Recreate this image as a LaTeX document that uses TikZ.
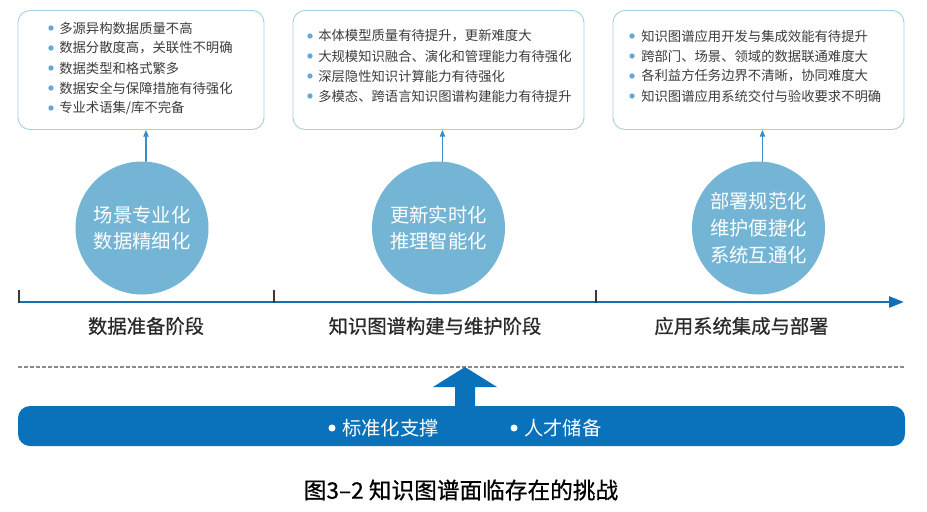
\documentclass[tikz,border=0pt]{standalone}
\usepackage{fontspec}
\setmainfont{Noto Sans CJK SC}
\newfontfamily\semifont[FakeBold=0.7]{Noto Sans CJK SC}
\usetikzlibrary{arrows.meta}
\definecolor{boxc}{HTML}{A3D0E6}
\definecolor{dotc}{HTML}{62A9D3}
\definecolor{circc}{HTML}{74B5D5}
\definecolor{pinc}{HTML}{3A8DC6}
\definecolor{linec}{HTML}{1170B8}
\definecolor{tickc}{HTML}{3A3A3A}
\definecolor{dashc}{HTML}{8A8A8A}
\definecolor{barc}{HTML}{0A72BA}
\definecolor{txtc}{HTML}{3C3C3C}
\definecolor{labc}{HTML}{2A2A2A}
\begin{document}
\begin{tikzpicture}[x=0.75pt,y=-0.75pt,>={Triangle[length=5pt,width=4pt]}, line join=round, line cap=round,
	infobox/.style={draw=boxc,line width=0.7pt,rounded corners=9pt,minimum height=119*0.75pt},
	item/.style={anchor=west,inner sep=0pt,text=txtc,font=\fontsize{10}{12}\selectfont},
	stage/.style={circle,fill=circc,minimum size=133*0.75pt,inner sep=0pt,align=center,text=white,font=\fontsize{14.5}{20}\selectfont},
	phase/.style={text=labc,font=\fontsize{14.5}{16}\selectfont\semifont},
	bartext/.style={anchor=west,inner sep=0pt,text=white,font=\fontsize{14.5}{16}\selectfont}]
	\useasboundingbox (0,0) rectangle (927,511);
	% top boxes
	\node[infobox,minimum width=246*0.75pt] (box1) at (141,70) {};
	\node[infobox,minimum width=291*0.75pt] (box2) at (438.5,70) {};
	\node[infobox,minimum width=291*0.75pt] (box3) at (758.5,70) {};
	\foreach \t [count=\i] in {多源异构数据质量不高,数据分散度高，关联性不明确,数据类型和格式繁多,数据安全与保障措施有待强化,专业术语集/库不完备}{
		\node[item] (a\i) at (59,8+20*\i) {\t};
		\fill[dotc] (51,8+20*\i) circle (2.7);
	}
	\foreach \t [count=\i] in {本体模型质量有待提升，更新难度大,大规模知识融合、演化和管理能力有待强化,深层隐性知识计算能力有待强化,多模态、跨语言知识图谱构建能力有待提升}{
		\node[item] (b\i) at (318,16+20*\i) {\t};
		\fill[dotc] (310,16+20*\i) circle (2.7);
	}
	\foreach \t [count=\i] in {知识图谱应用开发与集成效能有待提升,跨部门、场景、领域的数据联通难度大,各利益方任务边界不清晰，协同难度大,知识图谱应用系统交付与验收要求不明确}{
		\node[item] (c\i) at (641,16+20*\i) {\t};
		\fill[dotc] (632,16+20*\i) circle (2.7);
	}
	% circles
	\node[stage] (s1) at (142,228) {场景专业化\\数据精细化};
	\node[stage] (s2) at (438.5,228) {更新实时化\\推理智能化};
	\node[stage] (s3) at (758.5,228) {部署规范化\\维护便捷化\\系统互通化};
	\foreach \s/\b in {s1/box1,s2/box2,s3/box3}{
		\draw[->,pinc,line width=0.8pt]([xshift=3pt]\s.north)--([xshift=3pt]\s.north |- \b.south);
	}
	% timeline
	\path
	(19,302)coordinate (t0)
	(274,302)coordinate (t1)
	(596,302)coordinate (t2)
	(904,302)coordinate (t3)
	;
	\draw[linec,line width=2pt,-{Triangle[length=15*0.75pt,width=11*0.75pt]}](t0)--(t3);
	\foreach \p in {t0,t1,t2}{
		\draw[tickc,line width=1.5pt,line cap=butt]([yshift=-1pt]\p)--++(0,-13);
	}
	\node[phase] (p1) at (146,326) {数据准备阶段};
	\node[phase] (p2) at (435,326) {知识图谱构建与维护阶段};
	\node[phase] (p3) at (741.5,326) {应用系统集成与部署};
	% dashed line and support bar
	\draw[dashc,line width=1.2pt,line cap=butt,dash pattern=on 3pt off 1.5pt](18,367)--(905,367);
	\node[fill=barc,rounded corners=9pt,minimum width=887*0.75pt,minimum height=40*0.75pt] (bar) at (461.5,426) {};
	\fill[barc](455,406)--(455,387)--(433,387)--(465,367)--(497,387)--(475,387)--(475,406)--cycle;
	\node[bartext] (d1) at (342,428) {标准化支撑};
	\fill[white] (332,428) circle (3.5);
	\node[bartext] (d2) at (524,428) {人才储备};
	\fill[white] (514,428) circle (3.5);
	% caption
	\node[text=black,font=\fontsize{17}{19}\selectfont\semifont] (cap) at (461,490) {图3–2\ 知识图谱面临存在的挑战};
\end{tikzpicture}
\end{document}
